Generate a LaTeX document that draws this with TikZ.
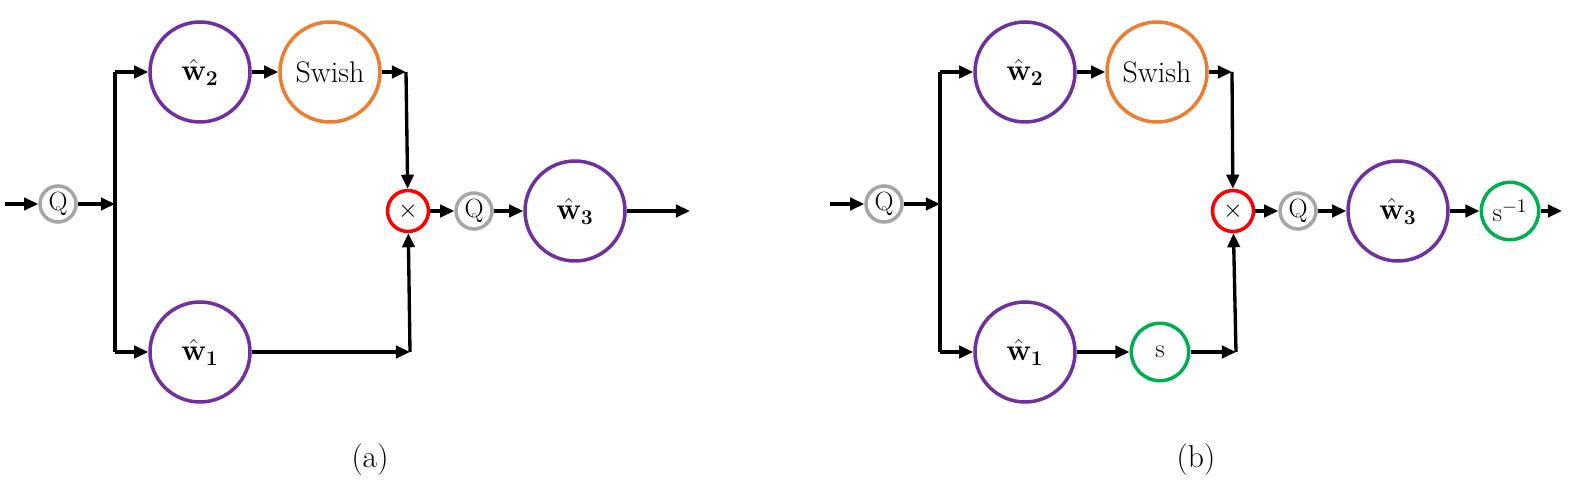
\documentclass[tikz,border=0pt]{standalone}
\usepackage{amsmath}
\usetikzlibrary{arrows.meta,positioning}
\definecolor{wpurple}{RGB}{112,48,160}
\definecolor{sworange}{RGB}{237,125,49}
\definecolor{sgreen}{RGB}{0,176,80}
\definecolor{qgray}{RGB}{166,166,166}
\newcommand{\wh}[1]{$\hat{\mathbf{w}}_{\mathbf{#1}}$}
\begin{document}
\begin{tikzpicture}[x=0.02cm,y=-0.02cm,
  big/.style = {circle, draw=wpurple, line width=2pt, minimum size=2.0cm, inner sep=0pt, font=\fontsize{17}{20}\selectfont},
  swish/.style = {big, draw=sworange},
  quant/.style = {circle, draw=qgray, line width=2pt, minimum size=0.72cm, inner sep=0pt, font=\fontsize{15}{18}\selectfont},
  mult/.style = {quant, draw=red, minimum size=0.82cm},
  scal/.style = {quant, draw=sgreen, minimum size=1.15cm},
  line/.style = {draw, line width=1.9pt, -{Triangle[length=8pt,width=7pt]}},
  plain/.style = {draw, line width=1.9pt},
  lab/.style = {font=\fontsize{18}{21}\selectfont}]
\useasboundingbox (0,0) rectangle (1587,486);
% (a)
\node[quant] (qa) at (58,204) {Q};
\node[big] (w2a) at (200,72) {\wh{2}};
\node[swish] (swa) at (330,72) {Swish};
\node[big] (w1a) at (200,352) {\wh{1}};
\node[mult] (xa) at (408,211) {$\times$};
\node[quant] (qoa) at (474,211) {Q};
\node[big] (w3a) at (575,211) {\wh{3}};
\coordinate (ina) at (5,204);
\coordinate (spa) at (115,204);
\coordinate (ta) at (115,72);
\coordinate (ba) at (115,352);
\coordinate (ra) at (406,72);
\coordinate (sa) at (410,352);
\coordinate (outa) at (690,211);
\node[lab] (capa) at (370,460) {(a)};
\path[line] (ina) -- (qa);
\path[line] (qa) -- (spa);
\path[plain] (ta) -- (ba);
\path[line] (ta) -- (w2a);
\path[line] (ba) -- (w1a);
\path[line] (w2a) -- (swa);
\path[line] (swa) -- (ra);
\path[line] (ra) -- (xa);
\path[line] (w1a) -- (sa);
\path[line] (sa) -- (xa);
\path[line] (xa) -- (qoa);
\path[line] (qoa) -- (w3a);
\path[line] (w3a) -- (outa);
% (b)
\node[quant] (qb) at (884,204) {Q};
\node[big] (w2b) at (1025,72) {\wh{2}};
\node[swish] (swb) at (1157,72) {Swish};
\node[big] (w1b) at (1025,352) {\wh{1}};
\node[scal] (sb) at (1160,352) {s};
\node[mult] (xb) at (1233,211) {$\times$};
\node[quant] (qob) at (1298,211) {Q};
\node[big] (w3b) at (1398,211) {\wh{3}};
\node[scal] (sib) at (1510,211) {s$^{-1}$};
\coordinate (inb) at (830,204);
\coordinate (spb) at (940,204);
\coordinate (tb) at (940,72);
\coordinate (bb) at (940,352);
\coordinate (rb) at (1232,72);
\coordinate (cb) at (1236,352);
\coordinate (outb) at (1562,211);
\node[lab] (capb) at (1196,460) {(b)};
\path[line] (inb) -- (qb);
\path[line] (qb) -- (spb);
\path[plain] (tb) -- (bb);
\path[line] (tb) -- (w2b);
\path[line] (bb) -- (w1b);
\path[line] (w2b) -- (swb);
\path[line] (swb) -- (rb);
\path[line] (rb) -- (xb);
\path[line] (w1b) -- (sb);
\path[line] (sb) -- (cb);
\path[line] (cb) -- (xb);
\path[line] (xb) -- (qob);
\path[line] (qob) -- (w3b);
\path[line] (w3b) -- (sib);
\path[line] (sib) -- (outb);
\end{tikzpicture}
\end{document}
